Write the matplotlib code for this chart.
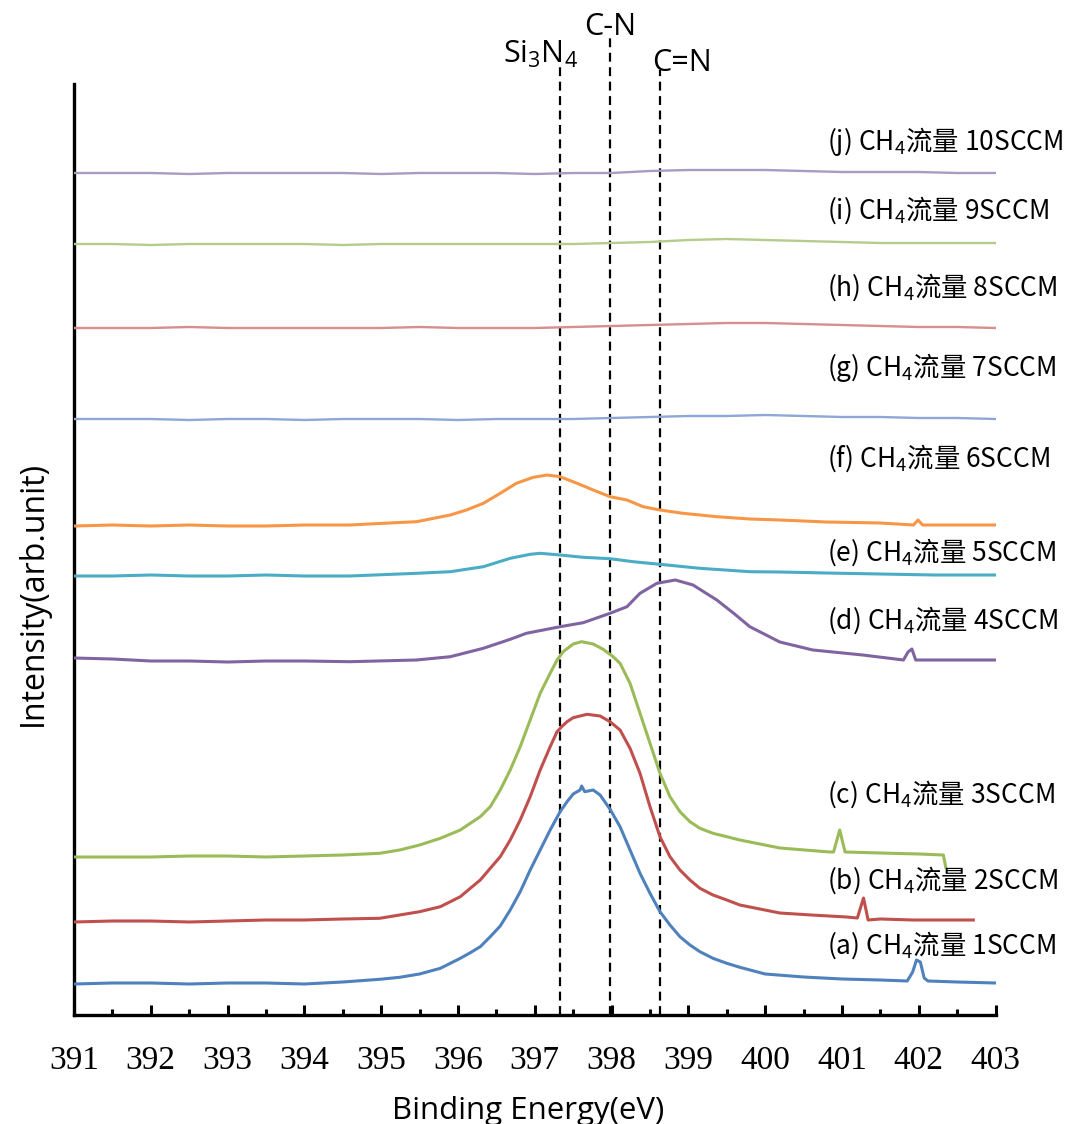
import matplotlib
matplotlib.use("Agg")
import matplotlib.pyplot as plt
from matplotlib.ticker import MultipleLocator

# N1s spectra, binding energy (eV) vs intensity (arb. units, stacked offsets)
energy_a = [391.0, 391.5, 392.0, 392.5, 393.0, 393.5, 394.0, 394.5, 394.98, 395.24, 395.5, 395.77,
            396.03, 396.16, 396.29, 396.42, 396.55, 396.68, 396.81, 396.94, 397.07, 397.2, 397.33,
            397.42, 397.5, 397.59, 397.61, 397.65, 397.76, 397.85, 397.98, 398.11, 398.24, 398.37,
            398.5, 398.63, 398.76, 398.89, 399.02, 399.15, 399.32, 399.5, 399.67, 400.0, 400.5,
            401.0, 401.5, 401.85, 401.92, 401.97, 402.02, 402.07, 402.12, 402.5, 403.0]
inten_a = [31, 32, 32, 31, 32, 32, 31, 33, 35.7, 37.7, 41, 46.7, 56.7, 62.3, 68.3, 78.3, 89, 105,
           123.3, 145, 165, 185, 203.3, 213.3, 221, 225, 229, 223.3, 225, 220, 205.7, 188.3, 165,
           141.7, 121.7, 103.3, 90, 78.3, 70, 63.3, 56.7, 51.7, 47.7, 41, 38, 36, 35, 34, 43, 55,
           53, 37, 34, 33, 32]

energy_b = [391.0, 391.5, 392.0, 392.5, 393.0, 393.5, 394.0, 394.5, 394.98, 395.24, 395.5, 395.77,
            396.03, 396.16, 396.29, 396.42, 396.55, 396.68, 396.81, 396.94, 397.07, 397.2, 397.29,
            397.35, 397.42, 397.5, 397.68, 397.85, 397.98, 398.11, 398.24, 398.37, 398.5, 398.63,
            398.76, 398.89, 399.02, 399.15, 399.32, 399.5, 399.67, 400.19, 400.6, 401.06, 401.2,
            401.28, 401.34, 401.5, 401.93, 402.3, 402.71]
inten_b = [93, 94, 94, 93, 94, 95, 95, 96, 96.7, 100, 103.3, 108.3, 118.3, 126.7, 135, 146.7,
           158.3, 175, 195, 218.3, 245, 268.3, 283.3, 288.3, 293.3, 297.3, 300.7, 299, 293.3, 285,
           266.7, 241.7, 208.3, 178.3, 158.3, 145, 135, 126.7, 120, 115, 110, 102, 100, 98, 97,
           117, 95, 96, 95, 95, 95]

energy_c = [391.0, 391.5, 392.0, 392.5, 393.0, 393.5, 394.0, 394.5, 394.98, 395.24, 395.5, 395.77,
            396.03, 396.16, 396.29, 396.42, 396.55, 396.68, 396.81, 396.94, 397.07, 397.2, 397.29,
            397.37, 397.5, 397.61, 397.76, 397.89, 398.02, 398.11, 398.24, 398.37, 398.5, 398.63,
            398.76, 398.89, 399.02, 399.15, 399.32, 399.5, 399.67, 400.19, 400.84, 400.89, 400.97,
            401.04, 401.5, 402.0, 402.32, 402.35]
inten_c = [158, 158, 158, 159, 159, 158, 159, 160, 161.7, 165, 170, 176.7, 185, 191.7, 198.3,
           208.3, 225, 245, 268.3, 295, 321.7, 341.7, 355, 363.3, 371, 373.3, 371, 365.7, 358.3,
           351.7, 331.7, 301.7, 271.7, 241.7, 218.3, 203.3, 193.3, 186.7, 181.7, 178.3, 175, 167,
           163, 163, 185, 163, 162, 161, 160, 148]

energy_d = [391.0, 391.5, 392.0, 392.5, 393.0, 393.5, 394.0, 394.59, 395.46, 395.9, 396.33, 396.68,
            396.89, 397.33, 397.63, 397.98, 398.2, 398.37, 398.59, 398.83, 399.06, 399.37, 399.59,
            399.8, 400.19, 400.62, 401.27, 401.8, 401.86, 401.91, 401.96, 402.5, 403.0]
inten_d = [357, 356, 354, 354, 353, 354, 354, 353.3, 355, 358.3, 366.7, 375.7, 381.7, 388.3,
           392.3, 401.7, 408.3, 421.7, 431.7, 435, 430, 415, 401.7, 388.3, 373, 365, 360, 355,
           363, 366, 355, 355, 355]

energy_e = [391.0, 391.5, 392.0, 392.5, 393.0, 393.5, 394.0, 394.59, 395.46, 395.9, 396.33, 396.68,
            396.94, 397.07, 397.33, 397.63, 397.98, 398.28, 398.63, 399.15, 399.8, 400.19, 400.8,
            401.5, 402.2, 403.0]
inten_e = [439, 439, 440, 439, 439, 440, 439, 439, 441.7, 443.3, 448.3, 456.7, 460.7, 461.7, 460,
           457.7, 456.3, 453.3, 450.7, 446.7, 443.3, 443, 442, 441, 440, 440]

energy_f = [391.0, 391.5, 392.0, 392.5, 393.0, 393.5, 394.0, 394.59, 395.03, 395.46, 395.9, 396.11,
            396.33, 396.55, 396.76, 396.98, 397.16, 397.33, 397.55, 397.76, 397.98, 398.2, 398.41,
            398.63, 398.93, 399.37, 399.8, 400.19, 400.8, 401.5, 401.93, 401.99, 402.05, 402.5,
            403.0]
inten_f = [489, 490, 489, 490, 489, 489, 490, 490, 491.7, 493.3, 500, 505, 511.7, 521.7, 531.7,
           537.7, 540, 538.3, 531.7, 525, 518.3, 515, 508.3, 505, 501.7, 498.3, 496, 495, 493,
           492, 490, 495, 490, 490, 490]

energy_flat = [391.0, 391.5, 392.0, 392.5, 393.0, 393.5, 394.0, 394.5, 395.0, 395.5, 396.0, 396.5,
               397.0, 397.5, 398.0, 398.5, 399.0, 399.5, 400.0, 400.5, 401.0, 401.5, 402.0, 402.5,
               403.0]
inten_g = [596, 596, 596, 595, 596, 596, 595, 596, 596, 596, 595, 596, 596, 596, 597, 598, 599,
           599, 600, 599, 598, 598, 597, 597, 596]
inten_h = [687, 687, 687, 688, 687, 687, 687, 687, 687, 688, 687, 687, 687, 688, 689, 690, 691,
           692, 692, 691, 690, 689, 688, 688, 687]
inten_i = [771, 771, 770, 771, 771, 771, 771, 770, 771, 771, 771, 771, 771, 771, 772, 773, 775,
           776, 775, 774, 773, 772, 772, 772, 772]
inten_j = [842, 842, 842, 841, 842, 842, 842, 842, 841, 842, 842, 842, 841, 842, 842, 844, 845,
           845, 845, 844, 843, 843, 843, 842, 842]

labels = ["(a) CH$_4$流量 1SCCM", "(b) CH$_4$流量 2SCCM", "(c) CH$_4$流量 3SCCM",
          "(d) CH$_4$流量 4SCCM", "(e) CH$_4$流量 5SCCM", "(f) CH$_4$流量 6SCCM",
          "(g) CH$_4$流量 7SCCM", "(h) CH$_4$流量 8SCCM", "(i) CH$_4$流量 9SCCM",
          "(j) CH$_4$流量 10SCCM"]
label_y = [61, 126, 212, 386, 454, 548, 639, 719, 796, 865]

peak_names = ["Si$_3$N$_4$", "C-N", "C=N"]
peak_energy = [397.33, 397.98, 398.63]

colors = ["#4F81BD", "#C0504D", "#9BBB59", "#8064A2", "#4BACC6", "#F79646",
          "#8EA7D6", "#D78E8C", "#B4CC8C", "#A99BC1"]

plt.rcParams['mathtext.default'] = 'regular'

fig = plt.figure(figsize=(10.70, 11.24), dpi=100)
ax = fig.add_axes([74 / 1070, 109 / 1124, 921.6 / 1070, 931 / 1124])

series = [(energy_a, inten_a), (energy_b, inten_b), (energy_c, inten_c), (energy_d, inten_d),
          (energy_e, inten_e), (energy_f, inten_f), (energy_flat, inten_g),
          (energy_flat, inten_h), (energy_flat, inten_i), (energy_flat, inten_j)]
for k, (xs, ys) in enumerate(series):
    lw = 2.2 if k < 6 else 1.7
    ax.plot(xs, ys, color=colors[k], lw=lw, solid_joinstyle='round', zorder=3)

for k, lab in enumerate(labels):
    ax.text(400.8, label_y[k], lab, fontsize=19, family='Noto Sans CJK SC',
            va='baseline', ha='left')

# reference lines for the nitrogen bonding states
top_y = [952, 982, 945]
for k, e in enumerate(peak_energy):
    ax.plot([e, e], [0, top_y[k]], color='black', lw=1.6, ls=(0, (4, 2.5)),
            clip_on=False, zorder=2)
ax.text(396.59, 952, peak_names[0], fontsize=22, family='Open Sans', ha='left', va='baseline')
ax.text(397.98, 980, peak_names[1], fontsize=22, family='Open Sans', ha='center', va='baseline')
ax.text(398.53, 944, peak_names[2], fontsize=22, family='Open Sans', ha='left', va='baseline')

ax.set_xlim(391, 403)
ax.set_ylim(0, 931)
ax.xaxis.set_major_locator(MultipleLocator(1))
ax.xaxis.set_minor_locator(MultipleLocator(0.5))
ax.set_yticks([])
for side in ['top', 'right']:
    ax.spines[side].set_visible(False)
ax.spines['left'].set_linewidth(2.4)
ax.spines['bottom'].set_linewidth(2.4)
ax.tick_params(axis='x', which='major', direction='in', length=7.5, width=2.2, pad=22)
ax.tick_params(axis='x', which='minor', direction='in', length=4.5, width=2.2)
for t in ax.get_xticklabels():
    t.set_fontfamily('Liberation Serif')
    t.set_fontsize(24)

fig.text(528 / 1070, 1 - 1119 / 1124, "Binding Energy(eV)", fontsize=22.5, family='Open Sans',
         ha='center', va='baseline')
fig.text(33 / 1070, 1 - 593 / 1124, "Intensity(arb.unit)", fontsize=23, family='Open Sans',
         ha='center', va='center', rotation=90)

fig.savefig("out.png", dpi=100)
